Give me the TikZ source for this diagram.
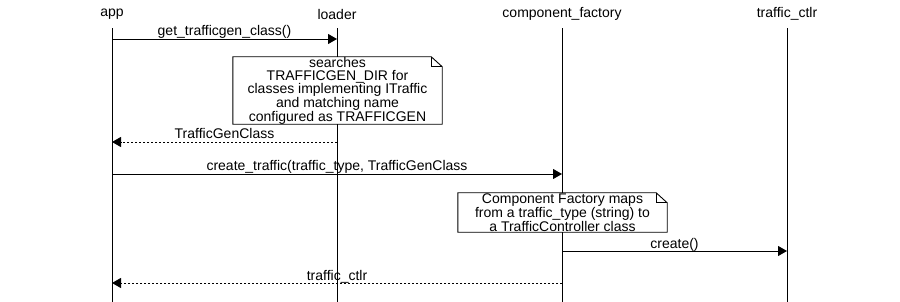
\documentclass[tikz,border=0pt]{standalone}
\usepackage{fontspec}
\setmainfont{Liberation Sans}
\usetikzlibrary{positioning,arrows.meta,calc}
\tikzset{
  head/.style  = {font=\fontsize{14}{13}\selectfont, inner sep=0pt, minimum height=28pt},
  life/.style  = {draw=black, line width=0.9pt},
  call/.style  = {-{Triangle[length=9pt,width=10pt]}, draw=black, line width=0.9pt},
  reply/.style = {call, dash pattern=on 2pt off 2pt},
  lbl/.style   = {font=\fontsize{14}{13}\selectfont, inner sep=0pt, anchor=base, yshift=3pt},
  memo/.style  = {fill=white, inner sep=0pt, minimum width=209pt, align=center,
                  font=\fontsize{14}{13}\selectfont},
  edge/.style  = {draw=black, line width=0.9pt},
}
\newcommand{\msg}[6]{\coordinate (#1s) at (#3 |- 0,#2);
  \coordinate (#1e) at (#4 |- 0,#2);
  \draw[#5] (#1s) -- node[lbl] (#1l) {#6} (#1e);}
\newcommand{\fold}[1]{\draw[edge] (#1.north west) -- ($(#1.north east)+(-11,0)$)
  -- ($(#1.north east)+(0,-10)$) -- (#1.south east) -- (#1.south west) -- cycle;
  \draw[edge] ($(#1.north east)+(-11,0)$) |- ($(#1.north east)+(0,-10)$);}
\begin{document}
\begin{tikzpicture}[x=1pt,y=1pt]
\useasboundingbox (0,0) rectangle (900,-302);

% ------------------------------------------------------------------ lifelines
\node[head] (app)     at (112,-14) {app};
\node[head] (loader)  at (337,-14) {loader};
\node[head] (factory) at (562,-14) {component\_factory};
\node[head] (ctlr)    at (787,-14) {traffic\_ctlr};
\coordinate (bot) at (0,-302);
\foreach \p in {app,loader,factory,ctlr}{\draw[life] (\p.south) -- (\p |- bot);}

% ------------------------------------------------------------------ messages
\msg{m1}{-39}{app}{loader}{call}{get\_trafficgen\_class()}
\msg{m2}{-142}{loader}{app}{reply}{TrafficGenClass}
\msg{m3}{-174}{app}{factory}{call}{create\_traffic(traffic\_type, TrafficGenClass}
\msg{m4}{-251}{factory}{ctlr}{call}{create()}
\msg{m5}{-283}{factory}{app}{reply}{traffic\_ctlr}

% ------------------------------------------------------------------ notes
\node[memo, minimum height=65pt] (n1) at (337.5,-90.5)
  {searches\\ TRAFFICGEN\_DIR for\\ classes implementing ITraffic\\
   and matching name\\ configured as TRAFFICGEN};
\fold{n1}
\node[memo, minimum height=39pt, font=\fontsize{14}{12.5}\selectfont] (n2) at (562.5,-212.5)
  {Component Factory maps\\ from a traffic\_type (string) to\\ a TrafficController class};
\fold{n2}

\end{tikzpicture}
\end{document}
